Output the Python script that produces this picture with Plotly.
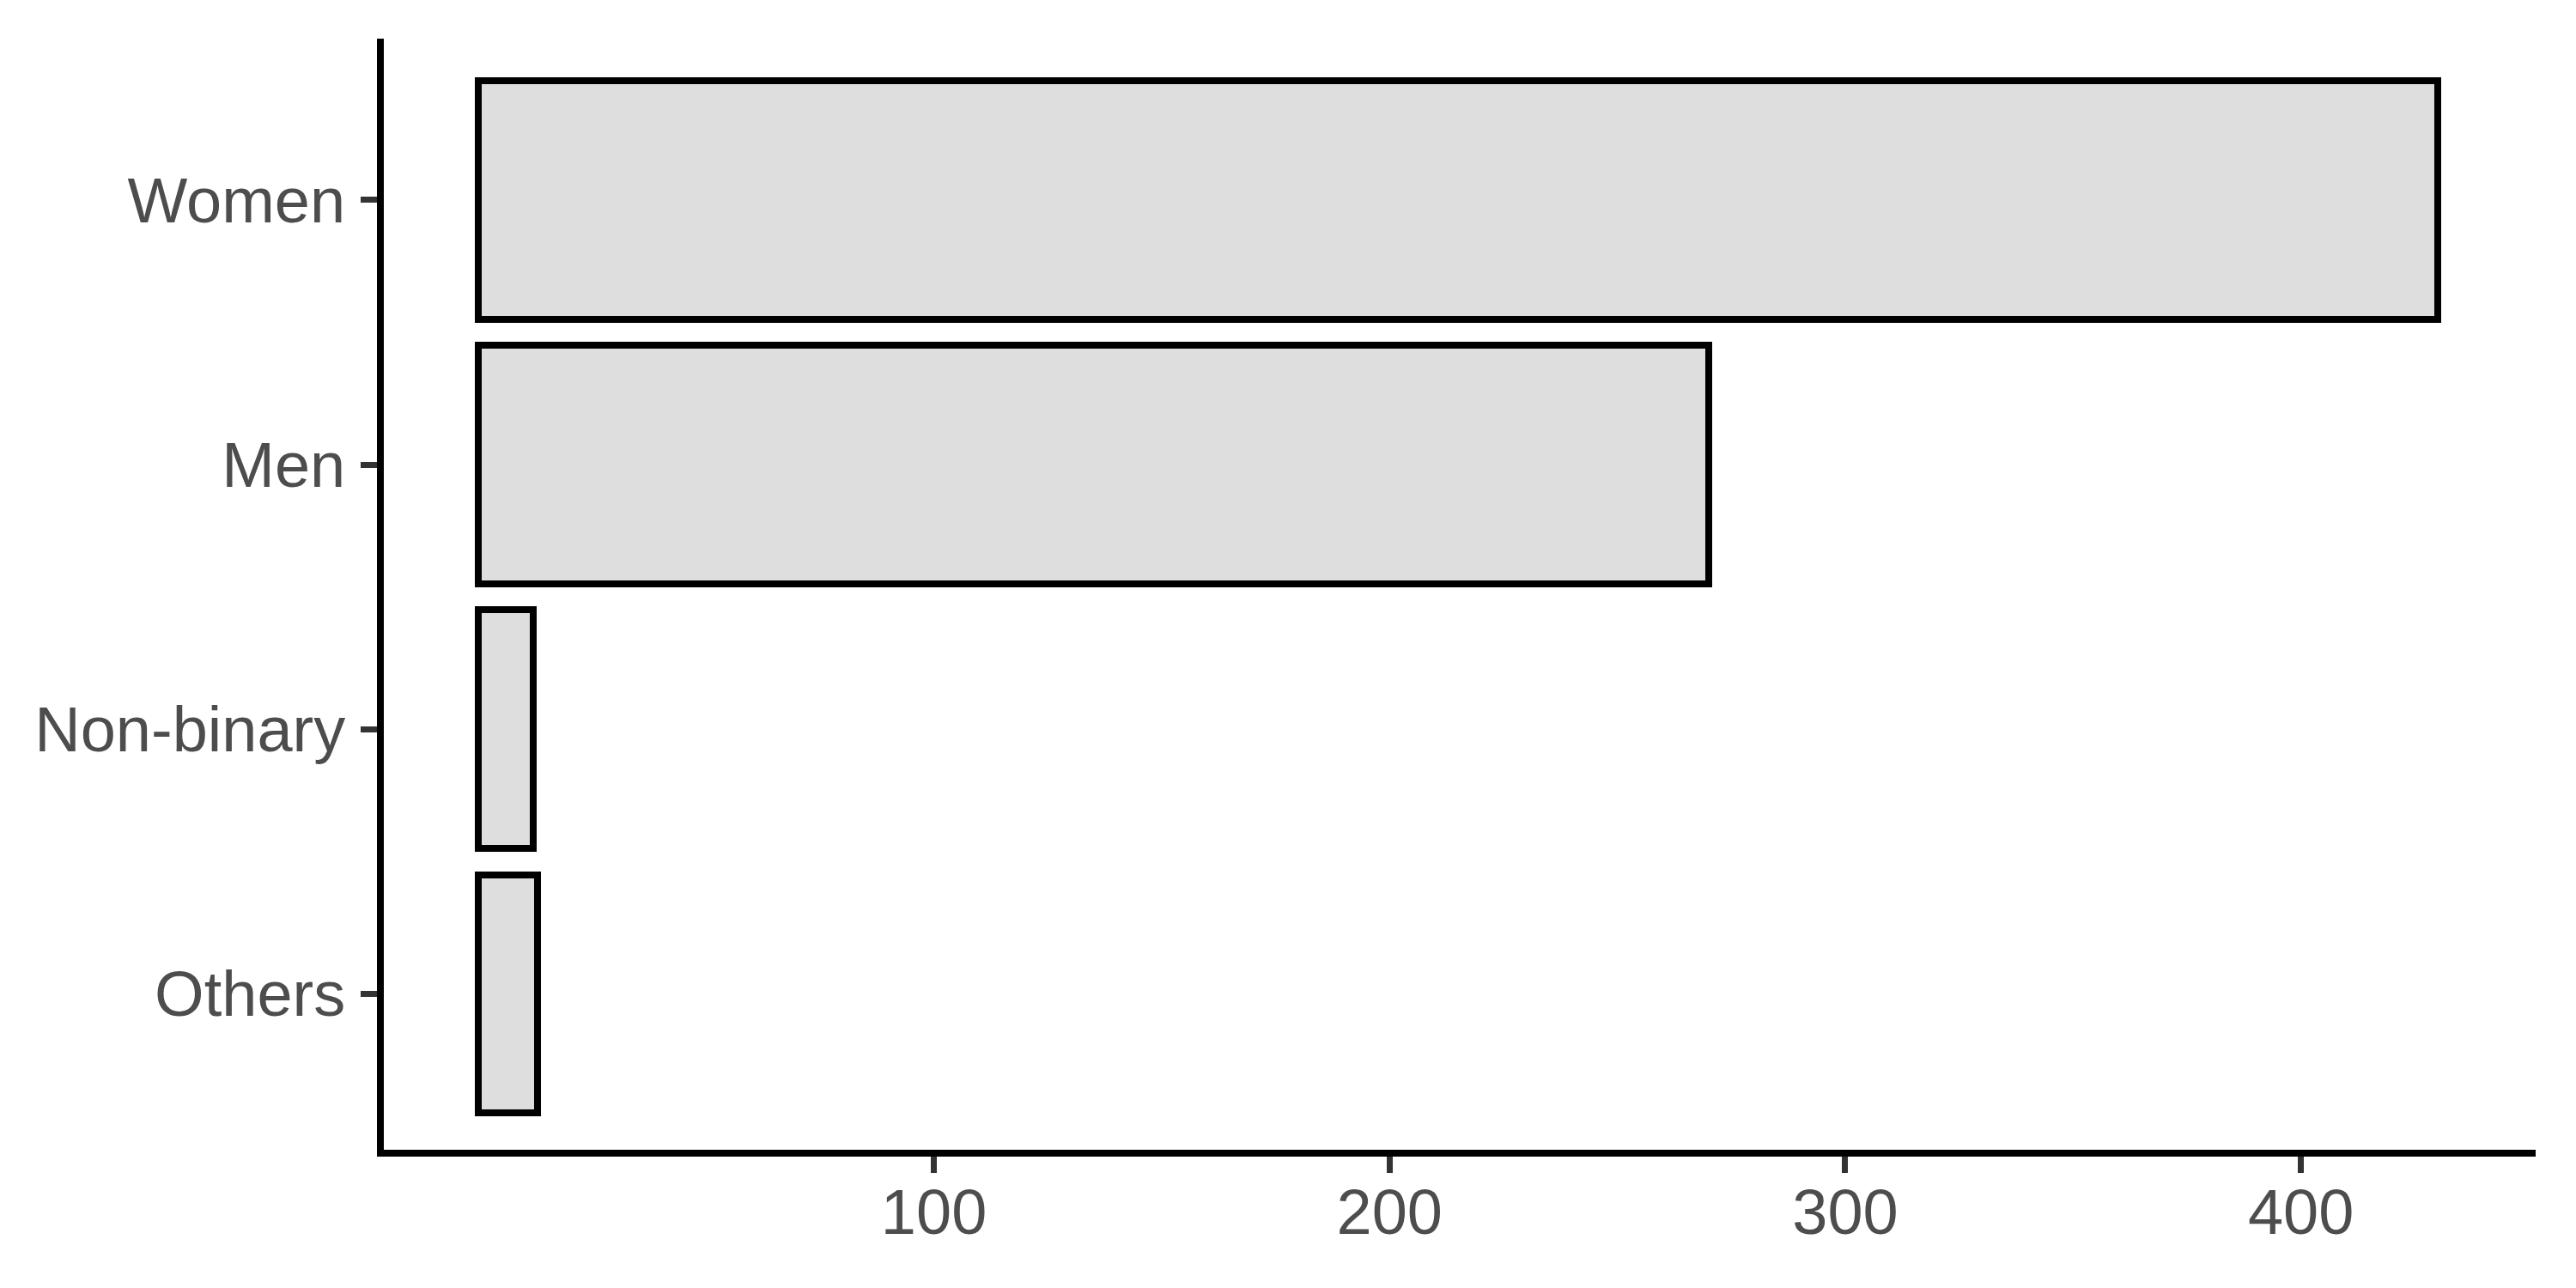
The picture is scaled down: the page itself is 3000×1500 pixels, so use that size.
"""
Horizontal bar chart: respondents by gender.
"""

import plotly.graph_objects as go

categorias = ['Women', 'Men', 'Non-binary', 'Others']
contagens = [430, 270, 12, 13]
ticks_x = [100, 200, 300, 400]

FONTE = 'Liberation Sans, Arial, sans-serif'

eixo = dict(
    showgrid=False,
    zeroline=False,
    showline=True,
    linecolor='black',
    linewidth=8,
    ticks='outside',
    ticklen=19,
    tickwidth=7,
    tickcolor='#333333',
    automargin=False,
    tickfont=dict(family=FONTE, size=74, color='#4D4D4D')
)

fig = go.Figure()

fig.add_trace(go.Bar(
    x=contagens,
    y=categorias,
    orientation='h',
    width=0.9,
    marker=dict(color='#DEDEDE', line=dict(color='black', width=8)),
    showlegend=False
))

# a página tem 8px de margem no body, compensado aqui
fig.update_layout(
    width=3000,
    height=1500,
    margin=dict(l=439, r=55, t=37, b=169),
    plot_bgcolor='white',
    paper_bgcolor='white',
    font=dict(family=FONTE, size=74, color='#4D4D4D'),
    bargap=0
)

fig.update_xaxes(range=[-20.7, 451.5], tickvals=ticks_x,
                 ticklabelstandoff=-18, **eixo)

fig.update_yaxes(
    type='category',
    categoryorder='array',
    categoryarray=categorias,
    range=[3.59, -0.61],
    ticklabelstandoff=3,
    **eixo
)

fig.write_html('out.html')
